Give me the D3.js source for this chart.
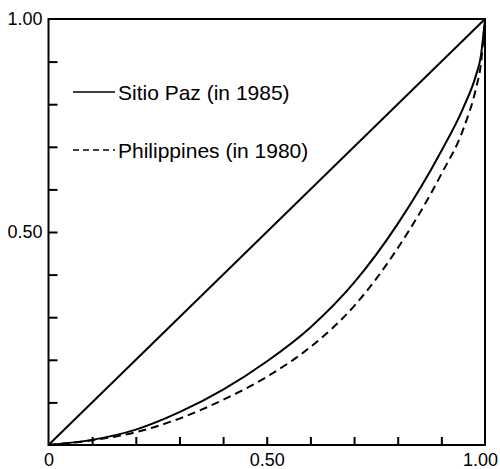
<!DOCTYPE html>
<html>
<head>
  <meta charset="utf-8">
  <title>Lorenz curves</title>
  <script src="https://d3js.org/d3.v7.min.js"></script>
  <style>
    body { margin: 0; background: #fff; }
    svg { font-family: "Liberation Sans", Arial, sans-serif; }
    .curve { fill: none; stroke: #000; stroke-width: 2px; }
    .tick line { stroke: #000; stroke-width: 2px; }
    .domain { display: none; }
  </style>
</head>
<body>
  <svg width="500" height="469"></svg>
  <script>
    // cumulative share of population / income
    const popShare = [0, 0.1, 0.2, 0.3, 0.4, 0.5, 0.6, 0.7, 0.8, 0.9, 0.95, 0.98, 0.99, 1.0];
    const sitioPaz = [0, 0.012, 0.036, 0.077, 0.130, 0.196, 0.276, 0.381, 0.519, 0.690, 0.791, 0.870, 0.910, 1.0];
    const philippines = [0, 0.011, 0.030, 0.062, 0.106, 0.160, 0.230, 0.326, 0.462, 0.636, 0.741, 0.840, 0.890, 1.0];
    const equality = [0, 1];
    const labelTicks = [0, 0.5, 1];
    const labelText = ["0", "0.50", "1.00"];
    const minorTicks = [0.1, 0.2, 0.3, 0.4, 0.5, 0.6, 0.7, 0.8, 0.9];
    const legendItems = [
      { name: "Sitio Paz (in 1985)", dash: null },
      { name: "Philippines (in 1980)", dash: "6,4" }
    ];

    const svg = d3.select("svg");
    const margin = { left: 48.5, right: 15, top: 19, bottom: 24 };
    const width = 500 - margin.left - margin.right;
    const height = 469 - margin.top - margin.bottom;

    const x = d3.scaleLinear().domain([0, 1]).range([0, width]);
    const y = d3.scaleLinear().domain([0, 1]).range([height, 0]);

    const g = svg.append("g").attr("transform", `translate(${margin.left},${margin.top})`);

    // inward minor ticks
    g.append("g")
      .attr("transform", `translate(0,${height})`)
      .call(d3.axisBottom(x).tickValues(minorTicks).tickSize(-8).tickFormat(""));
    g.append("g")
      .call(d3.axisLeft(y).tickValues(minorTicks).tickSize(-9).tickFormat(""));

    // tick labels
    const xLab = g.append("g")
      .attr("transform", `translate(0,${height})`)
      .call(d3.axisBottom(x).tickValues(labelTicks).tickSize(0).tickPadding(8)
        .tickFormat((d, i) => labelText[i]));
    xLab.selectAll("text").attr("font-size", 18).attr("font-family", null)
      .attr("dx", (d, i) => i === 2 ? -5 : 0);
    const yLab = g.append("g")
      .call(d3.axisLeft(y).tickValues(labelTicks.slice(1)).tickSize(0).tickPadding(6)
        .tickFormat((d, i) => labelText[i + 1]));
    yLab.selectAll("text").attr("font-size", 18).attr("font-family", null);

    // frame
    g.append("rect")
      .attr("width", width).attr("height", height)
      .attr("fill", "none").attr("stroke", "#000").attr("stroke-width", 2);

    // line of equality
    g.append("path")
      .attr("class", "curve")
      .attr("d", d3.line().x(d => x(d)).y(d => y(d))(equality));

    const line = d3.line().curve(d3.curveMonotoneX);
    g.append("path")
      .attr("class", "curve")
      .attr("d", line(popShare.map((p, i) => [x(p), y(sitioPaz[i])])));
    g.append("path")
      .attr("class", "curve")
      .attr("stroke-dasharray", "8,5")
      .attr("d", line(popShare.map((p, i) => [x(p), y(philippines[i])])));

    // legend
    const legend = svg.append("g");
    const item = legend.selectAll("g")
      .data(legendItems)
      .enter().append("g")
      .attr("transform", (d, i) => `translate(73,${92 + i * 58})`);
    item.append("line")
      .attr("x1", 0).attr("x2", 42)
      .attr("stroke", "#000").attr("stroke-width", 1.5)
      .attr("stroke-dasharray", d => d.dash);
    item.append("text")
      .attr("x", 45).attr("y", 8)
      .attr("font-size", 21)
      .text(d => d.name);
  </script>
</body>
</html>
